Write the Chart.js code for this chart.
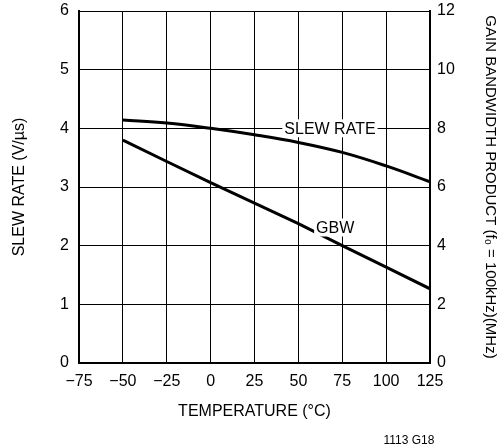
<!DOCTYPE html>
<html>
<head>
<meta charset="utf-8">
<script src="https://cdn.jsdelivr.net/npm/chart.js@4.4.0/dist/chart.umd.min.js"></script>
<style>
  html, body { margin: 0; padding: 0; background: #fff; }
  #wrap { width: 499px; height: 448px; position: relative; }
</style>
</head>
<body>
<div id="wrap"><canvas id="chart"></canvas></div>
<script>
// data
const temps = [-50, -25, 0, 25, 50, 75, 100, 125];
const slewRate = [4.14, 4.09, 4.0, 3.89, 3.76, 3.59, 3.36, 3.09];   // V/us, left axis
const gbw = [7.6, 6.87, 6.15, 5.45, 4.75, 4.0, 3.27, 2.53];          // MHz, right axis

const FONT = "'Liberation Sans', Arial, sans-serif";

const minus = v => String(v).replace('-', '\u2212');

// curve labels + figure id
const labelsPlugin = {
  id: 'curveLabels',
  afterDraw(chart) {
    const ctx = chart.ctx;
    const x = chart.scales.x, y = chart.scales.y;
    ctx.save();
    ctx.font = '16px ' + FONT;
    ctx.textAlign = 'center';
    ctx.textBaseline = 'middle';
    const put = (txt, tx, ty) => {
      const px = x.getPixelForValue(tx), py = y.getPixelForValue(ty);
      const w = ctx.measureText(txt).width;
      ctx.fillStyle = '#fff';
      ctx.fillRect(px - w / 2 - 2, py - 9, w + 4, 18);
      ctx.fillStyle = '#000';
      ctx.fillText(txt, px, py + 1);
    };
    put('SLEW RATE', 68, 4.0);
    put('GBW', 71, 2.31);
    ctx.font = '12px ' + FONT;
    ctx.fillText('1113 G18', 409, 441);
    ctx.restore();
  }
};

// drop the extra room Chart.js keeps for the end tick labels
const noEndPad = s => { s.paddingTop = 0; s.paddingBottom = 0; };

new Chart(document.getElementById('chart'), {
  type: 'line',
  data: {
    labels: temps,
    datasets: [
      {
        label: 'SLEW RATE',
        data: temps.map((t, i) => ({ x: t, y: slewRate[i] })),
        yAxisID: 'y',
        borderColor: '#000',
        borderWidth: 3,
        pointRadius: 0,
        tension: 0.4,
        fill: false
      },
      {
        label: 'GBW',
        data: temps.map((t, i) => ({ x: t, y: gbw[i] })),
        yAxisID: 'y2',
        borderColor: '#000',
        borderWidth: 3,
        pointRadius: 0,
        tension: 0,
        fill: false
      }
    ]
  },
  options: {
    responsive: true,
    maintainAspectRatio: false,
    animation: false,
    layout: { padding: { top: 11, bottom: 27, left: 0, right: 0 } },
    plugins: { legend: { display: false }, tooltip: { enabled: false } },
    scales: {
      x: {
        type: 'linear',
        min: -75, max: 125,
        ticks: { stepSize: 25, color: '#000', font: { family: FONT, size: 16 }, padding: 9,
          callback: v => minus(v), maxRotation: 0 },
        grid: { color: '#000', lineWidth: 1, drawTicks: false },
        border: { color: '#000', width: 2 },
        title: { display: true, text: 'TEMPERATURE (°C)', color: '#000', font: { family: FONT, size: 16 }, padding: 0 },
        afterFit: s => { s.height = 58; }
      },
      y: {
        position: 'left',
        min: 0, max: 6,
        ticks: { stepSize: 1, color: '#000', font: { family: FONT, size: 16 }, padding: 10 },
        grid: { color: '#000', lineWidth: 1, drawTicks: false },
        border: { color: '#000', width: 2 },
        title: { display: true, text: 'SLEW RATE (V/\u00b5s)', color: '#000', font: { family: FONT, size: 16 }, padding: { top: 10 } },
        afterFit: s => { s.width = 79; noEndPad(s); }
      },
      y2: {
        position: 'right',
        min: 0, max: 12,
        ticks: { stepSize: 2, color: '#000', font: { family: FONT, size: 16 }, padding: 7 },
        grid: { drawOnChartArea: false, drawTicks: false },
        border: { color: '#000', width: 2 },
        title: { display: true, text: 'GAIN BANDWIDTH PRODUCT (f\u2080 = 100kHz)(MHz)', color: '#000', font: { family: FONT, size: 15 }, padding: { bottom: 0, top: 0 } },
        afterFit: s => { s.width = 69; noEndPad(s); }
      }
    }
  },
  plugins: [labelsPlugin]
});
</script>
</body>
</html>
